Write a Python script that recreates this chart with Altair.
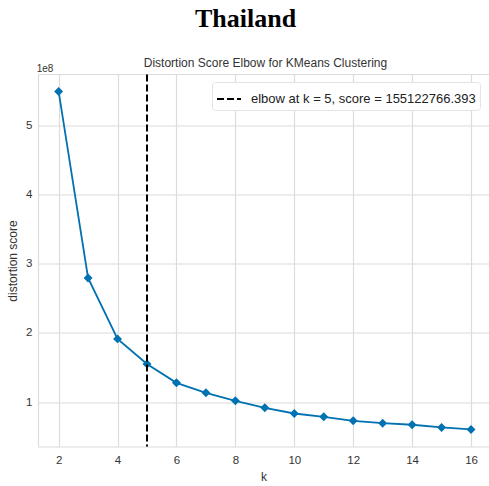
import altair as alt
import pandas as pd

# ---- data ----
k_values = [2, 3, 4, 5, 6, 7, 8, 9, 10, 11, 12, 13, 14, 15, 16]
distortion = [549000000, 279600000, 191500000, 155122766.393, 128000000,
              113600000, 102000000, 91900000, 83700000, 78900000,
              73100000, 69700000, 67400000, 63500000, 60600000]
elbow_k = 5
elbow_score = 155122766.393
x_ticks = [2, 4, 6, 8, 10, 12, 14, 16]
y_ticks = [100000000, 200000000, 300000000, 400000000, 500000000]
country = "Thailand"
plot_title = "Distortion Score Elbow for KMeans Clustering"
offset_label = "1e8"

df = pd.DataFrame({"k": k_values, "score": distortion})
legend_label = f"elbow at k = {elbow_k}, score = {elbow_score:.3f}"
elbow_df = pd.DataFrame({"k": [elbow_k], "label": [legend_label]})

BLUE = "#0072B2"
GRID = "#dcdcdc"
TXT = "#333333"
W, H = 451, 372

xscale = alt.Scale(domain=[1.3, 16.61], nice=False, zero=False)
yscale = alt.Scale(domain=[36000000, 573500000], nice=False, zero=False)

x_enc = alt.X("k:Q", scale=xscale,
              axis=alt.Axis(values=x_ticks, title="k", labelPadding=8,
                            titlePadding=5, format="d"))
y_enc = alt.Y("score:Q", scale=yscale,
              axis=alt.Axis(values=y_ticks, title="distortion score",
                            labelExpr="format(datum.value / 1e8, 'd')",
                            labelPadding=6, titlePadding=6))

base = alt.Chart(df)
line = base.mark_line(color=BLUE, strokeWidth=1.8).encode(x=x_enc, y=y_enc)
pts = base.mark_point(shape="diamond", filled=True, size=80, color=BLUE,
                      opacity=1).encode(x=x_enc, y=y_enc)

rule = alt.Chart(elbow_df).mark_rule(color="black", strokeWidth=2).encode(
    x=alt.X("k:Q", scale=xscale),
    strokeDash=alt.StrokeDash(
        "label:N",
        scale=alt.Scale(domain=[legend_label], range=[[7, 3]]),
        legend=alt.Legend(title=None, orient="none", legendX=174, legendY=7.5,
                          padding=4, fillColor="white", strokeColor="#e3e3e3",
                          cornerRadius=3, symbolType="stroke",
                          symbolStrokeColor="black", symbolStrokeWidth=2,
                          symbolSize=576, labelFont="Liberation Sans",
                          labelFontSize=13, labelColor="#222222",
                          labelLimit=0, labelOffset=9),
    ),
)

top_border = alt.Chart(pd.DataFrame({"a": [0]})).mark_rule(
    color=GRID, strokeWidth=1.2).encode(
    x=alt.value(0), x2=alt.value(W), y=alt.value(0))

offset_txt = alt.Chart(pd.DataFrame({"t": [offset_label]})).mark_text(
    align="left", baseline="alphabetic", fontSize=10, font="Liberation Sans",
    color=TXT).encode(x=alt.value(-1.3), y=alt.value(-2.8), text="t:N")

title_txt = alt.Chart(pd.DataFrame({"t": [plot_title]})).mark_text(
    align="center", baseline="alphabetic", fontSize=12, font="Liberation Sans",
    color=TXT).encode(x=alt.value(W / 2 + 2), y=alt.value(-7.5), text="t:N")

head_txt = alt.Chart(pd.DataFrame({"t": [country]})).mark_text(
    align="center", baseline="alphabetic", fontSize=26, font="Liberation Serif",
    fontWeight="bold", color="black").encode(
    x=alt.value(207.5), y=alt.value(-47.8), text="t:N")

chart = alt.layer(top_border, line, pts, rule, offset_txt, title_txt,
                  head_txt).properties(
    width=W, height=H,
    padding={"left": 38, "top": 74.5, "right": 0, "bottom": 39.5},
    autosize=alt.AutoSizeParams(type="none"),
).configure_view(strokeWidth=0).configure_axis(
    domainColor=GRID, domainWidth=1.2, gridColor=GRID, gridWidth=1.2,
    ticks=False, labelFont="Liberation Sans", labelFontSize=11.5,
    labelColor=TXT, titleFont="Liberation Sans", titleFontSize=12,
    titleFontWeight="normal", titleColor=TXT,
)

chart.save("out.html", embed_options={"renderer": "svg", "actions": False})
